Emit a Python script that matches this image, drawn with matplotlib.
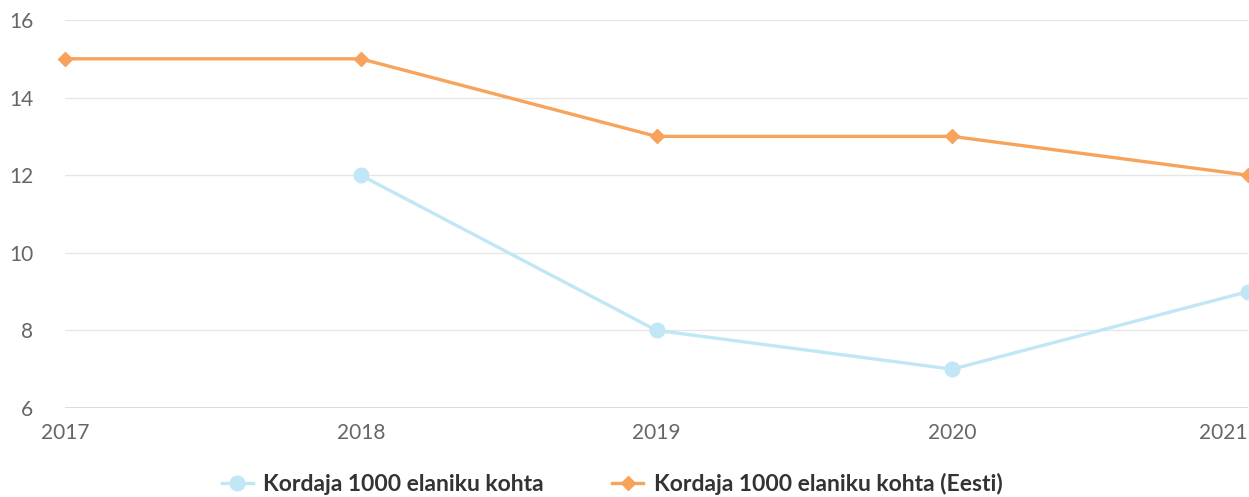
import numpy as np
import matplotlib.pyplot as plt
from matplotlib.lines import Line2D

years = [2017, 2018, 2019, 2020, 2021]
kordaja = [np.nan, 12, 8, 7, 9]
kordaja_eesti = [15, 15, 13, 13, 12]
yticks = [6, 8, 10, 12, 14, 16]

label_a = 'Kordaja 1000 elaniku kohta'
label_b = 'Kordaja 1000 elaniku kohta (Eesti)'

blue = '#c1e6f6'
orange = '#f7a35c'

plt.rcParams['font.family'] = ['Lato', 'DejaVu Sans']

fig = plt.figure(figsize=(12.49, 4.97), dpi=100)
ax = fig.add_axes([65 / 1249, 89 / 497, 1183 / 1249, 388 / 497])

ax.plot(years, kordaja, color=blue, lw=2.4, marker='o', ms=10.5,
        clip_on=False, zorder=3)
ax.plot(years, kordaja_eesti, color=orange, lw=2.4, marker='D', ms=7.5,
        clip_on=False, zorder=4)

ax.set_xlim(2017, 2021)
ax.set_ylim(6, 16)
ax.set_yticks(yticks)
ax.set_xticks(years)
ax.set_xticklabels([str(y) for y in years])

# grid lines, with the bluish base line at 6
for y in yticks[1:]:
    ax.axhline(y, color='#e6e6e6', lw=1, zorder=1)
ax.axhline(6, color='#ccd6eb', lw=1.2, zorder=1)

for s in ax.spines.values():
    s.set_visible(False)

ax.tick_params(axis='both', length=0, labelsize=15, colors='#666666')
ax.tick_params(axis='y', pad=23)
ax.tick_params(axis='x', pad=11)
for lbl in ax.get_yticklabels():
    lbl.set_horizontalalignment('right')
# keep the last year label inside the figure
ax.get_xticklabels()[-1].set_horizontalalignment('right')

handles = [
    Line2D([], [], color=blue, lw=2.4, marker='o', ms=10.5),
    Line2D([], [], color=orange, lw=2.4, marker='D', ms=7.5),
]
fig.legend(handles, [label_a, label_b], loc='center', bbox_to_anchor=(0.49, 0.026),
           ncol=2, frameon=False, handlelength=1.35, handletextpad=0.45,
           columnspacing=3.0,
           prop={'size': 16.5, 'weight': 'bold'}, labelcolor='#333333')

fig.savefig('out.png', dpi=100)
